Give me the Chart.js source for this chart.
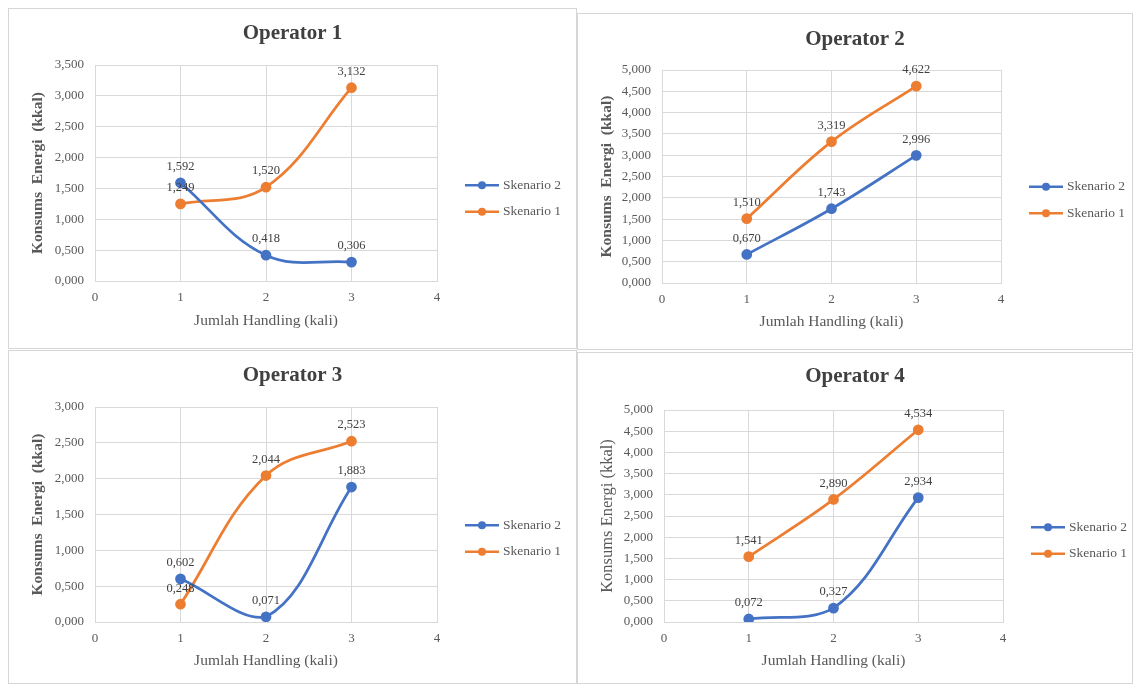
<!DOCTYPE html>
<html>
<head>
<meta charset="utf-8">
<script src="https://cdn.jsdelivr.net/npm/chart.js@4.4.0/dist/chart.umd.min.js"></script>
<style>
  html, body { margin: 0; padding: 0; background: #ffffff; }
  body { width: 1133px; height: 684px; position: relative; overflow: hidden; }
  .frame { position: absolute; border: 1px solid #d6d6d6; box-sizing: border-box; }
  canvas { position: absolute; }
</style>
</head>
<body>
<script>
// Jumlah handling (kali) on the x axis
const handling = [1, 2, 3];
const xTickValues = [0, 1, 2, 3, 4];

// Konsumsi energi (kkal) per operator and scenario
const op1Skenario2 = [1.592, 0.418, 0.306];
const op1Skenario1 = [1.249, 1.520, 3.132];
const op2Skenario2 = [0.670, 1.743, 2.996];
const op2Skenario1 = [1.510, 3.319, 4.622];
const op3Skenario2 = [0.602, 0.071, 1.883];
const op3Skenario1 = [0.248, 2.044, 2.523];
const op4Skenario2 = [0.072, 0.327, 2.934];
const op4Skenario1 = [1.541, 2.890, 4.534];

const chartTitles = ['Operator 1', 'Operator 2', 'Operator 3', 'Operator 4'];
const seriesNames = ['Skenario 2', 'Skenario 1'];
const yTitles = ['Konsums  Energi  (kkal)', 'Konsums  Energi  (kkal)', 'Konsums  Energi  (kkal)', 'Konsums Energi (kkal)'];
const xTitle = 'Jumlah Handling (kali)';
const yMaxima = [3.5, 5, 3, 5];
const yStep = 0.5;

const BLUE = '#4472C4';
const ORANGE = '#ED7D31';
const FONT = '"Liberation Serif", "Times New Roman", serif';

// Panel boxes, plot areas and text anchors in page pixels
const panels = [
  { box: [8, 8, 569, 341],     plot: [95, 65, 437, 281],    titleY: 34,  legendY: 198.5, xTitleY: 321, yTitleBold: true,  ySize: 15.5, series: [op1Skenario2, op1Skenario1] },
  { box: [577, 13, 556, 337],  plot: [662, 70, 1001, 283],  titleY: 40,  legendY: 200,   xTitleY: 322, yTitleBold: true,  ySize: 15.5, series: [op2Skenario2, op2Skenario1] },
  { box: [8, 350, 569, 334],   plot: [95, 407, 437, 622],   titleY: 376, legendY: 538.5, xTitleY: 661, yTitleBold: true,  ySize: 15.5, series: [op3Skenario2, op3Skenario1] },
  { box: [577, 352, 556, 332], plot: [664, 410, 1003, 622], titleY: 377, legendY: 540.5, xTitleY: 661, yTitleBold: false, ySize: 16.5, series: [op4Skenario2, op4Skenario1] }
];

const fmt = v => v.toFixed(3).replace('.', ',');

// Title, legend and value labels drawn onto each canvas
const decorPlugin = {
  id: 'decor',
  afterDatasetsDraw(chart) {
    const ctx = chart.ctx;
    ctx.save();
    ctx.font = '12.5px ' + FONT;
    ctx.fillStyle = '#404040';
    ctx.textAlign = 'center';
    ctx.textBaseline = 'middle';
    chart.data.datasets.forEach((ds, i) => {
      const meta = chart.getDatasetMeta(i);
      meta.data.forEach((pt, j) => {
        ctx.fillText(fmt(ds.data[j].y), pt.x, pt.y - 16);
      });
    });
    ctx.restore();
  },
  afterDraw(chart, args, opts) {
    const ctx = chart.ctx;
    const area = chart.chartArea;
    ctx.save();
    ctx.font = 'bold 21px ' + FONT;
    ctx.fillStyle = '#404040';
    ctx.textAlign = 'center';
    ctx.textBaseline = 'middle';
    ctx.fillText(opts.title, chart.width / 2, opts.titleY);

    const lx = area.right + 28;
    const rowGap = 26.5;
    const y0 = opts.legendY - rowGap / 2;
    ctx.font = '13.5px ' + FONT;
    ctx.textAlign = 'left';
    chart.data.datasets.forEach((ds, i) => {
      const y = y0 + i * rowGap;
      ctx.strokeStyle = ds.borderColor;
      ctx.lineWidth = 2.5;
      ctx.beginPath();
      ctx.moveTo(lx, y);
      ctx.lineTo(lx + 34, y);
      ctx.stroke();
      ctx.fillStyle = ds.borderColor;
      ctx.beginPath();
      ctx.arc(lx + 17, y, 4, 0, Math.PI * 2);
      ctx.fill();
      ctx.fillStyle = '#595959';
      ctx.fillText(ds.label, lx + 38, y);
    });
    ctx.restore();
  }
};

panels.forEach((p, idx) => {
  const [bx, by, bw, bh] = p.box;
  const [pl, pt, pr, pb] = p.plot;

  const frame = document.createElement('div');
  frame.className = 'frame';
  Object.assign(frame.style, { left: bx + 'px', top: by + 'px', width: bw + 'px', height: bh + 'px' });
  document.body.appendChild(frame);

  const canvas = document.createElement('canvas');
  canvas.width = bw;
  canvas.height = bh;
  Object.assign(canvas.style, { left: bx + 'px', top: by + 'px', width: bw + 'px', height: bh + 'px' });
  document.body.appendChild(canvas);

  const yAxisWidth = pl - bx;
  const xAxisHeight = (by + bh) - pb;
  const xTitleSize = 15.5;
  const xTitlePad = (by + bh) - p.xTitleY - xTitleSize * 1.2 / 2;

  new Chart(canvas.getContext('2d'), {
    type: 'line',
    data: {
      datasets: p.series.map((vals, i) => ({
        label: seriesNames[i],
        data: handling.map((h, j) => ({ x: h, y: vals[j] })),
        borderColor: i === 0 ? BLUE : ORANGE,
        backgroundColor: i === 0 ? BLUE : ORANGE,
        pointBackgroundColor: i === 0 ? BLUE : ORANGE,
        pointBorderColor: i === 0 ? BLUE : ORANGE,
        borderWidth: 2.75,
        pointRadius: 4,
        tension: 0.38,
        fill: false
      }))
    },
    options: {
      responsive: false,
      animation: false,
      devicePixelRatio: 1,
      layout: { padding: { top: pt - by, right: (bx + bw) - pr, bottom: 0, left: 0 } },
      plugins: {
        legend: { display: false },
        title: { display: false },
        tooltip: { enabled: false },
        decor: { title: chartTitles[idx], titleY: p.titleY - by, legendY: p.legendY - by }
      },
      scales: {
        x: {
          type: 'linear',
          min: 0,
          max: 4,
          afterBuildTicks: s => { s.ticks = xTickValues.map(v => ({ value: v })); },
          afterFit: s => { s.height = xAxisHeight; },
          ticks: { color: '#595959', font: { family: FONT, size: 13 }, padding: 9 },
          grid: { color: '#d9d9d9', drawTicks: false, lineWidth: 1 },
          border: { color: '#d9d9d9' },
          title: {
            display: true,
            text: xTitle,
            color: '#595959',
            font: { family: FONT, size: xTitleSize },
            padding: { top: 0, bottom: xTitlePad }
          }
        },
        y: {
          type: 'linear',
          min: 0,
          max: yMaxima[idx],
          ticks: { stepSize: yStep, color: '#595959', font: { family: FONT, size: 13 }, padding: 11, callback: v => fmt(v) },
          afterFit: s => { s.width = yAxisWidth; },
          grid: { color: '#d9d9d9', drawTicks: false, lineWidth: 1 },
          border: { color: '#d9d9d9' },
          title: {
            display: true,
            text: yTitles[idx],
            color: '#595959',
            font: { family: FONT, size: p.ySize, weight: p.yTitleBold ? 'bold' : 'normal' },
            padding: { top: 21, bottom: 0 }
          }
        }
      }
    },
    plugins: [decorPlugin]
  });
});
</script>
</body>
</html>
